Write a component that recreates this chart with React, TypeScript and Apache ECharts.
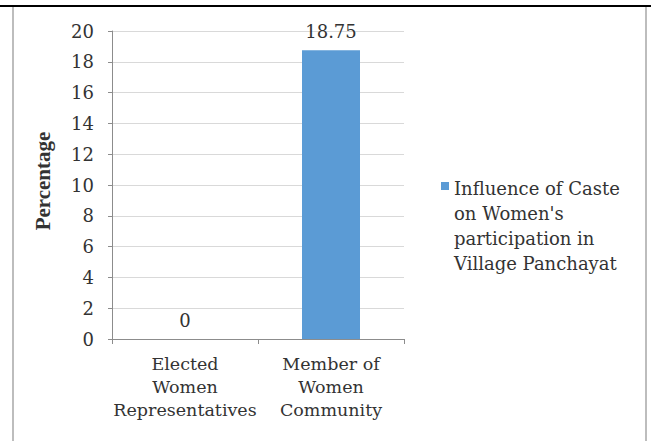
import React, { useEffect, useRef } from "react";
import * as echarts from "echarts";

const categories = ["Elected\nWomen\nRepresentatives", "Member of\nWomen\nCommunity"];
const seriesName = "Influence of Caste on Women's participation in Village Panchayat";
const legendLines = ["Influence of Caste", "on Women's", "participation in", "Village Panchayat"];
const values = [0, 18.75];
const yTicks = { min: 0, max: 20, interval: 2 };

const FONT = "DejaVu Serif";
const TEXT = "#333333";

// Legend marker: an 8x8 square near the top of a tall box, so it lines up
// with the first line of the four-line legend text.
const LEGEND_ICON = "path://M0,0L0,0M0,6L8,6L8,14L0,14ZM8,100L8,100";

export default function App() {
  const ref = useRef<HTMLDivElement>(null);

  useEffect(() => {
    if (!ref.current) return;
    const chart = echarts.init(ref.current, undefined, { renderer: "svg" });
    chart.setOption({
      animation: false,
      backgroundColor: "#ffffff",
      textStyle: { fontFamily: FONT, color: TEXT },
      grid: { left: 112, right: 249, top: 31, bottom: 102, containLabel: false },
      xAxis: {
        type: "category",
        data: categories,
        axisLine: { show: true, lineStyle: { color: "#8c8c8c", width: 1 } },
        axisTick: { show: true, length: 5, lineStyle: { color: "#8c8c8c" } },
        axisLabel: {
          fontFamily: FONT,
          fontSize: 17.5,
          lineHeight: 23,
          color: TEXT,
          margin: 13,
          interval: 0,
        },
      },
      yAxis: {
        type: "value",
        min: yTicks.min,
        max: yTicks.max,
        interval: yTicks.interval,
        name: "Percentage",
        nameLocation: "middle",
        nameGap: 59,
        nameRotate: 90,
        nameTextStyle: {
          fontFamily: "Liberation Serif",
          fontSize: 21,
          fontWeight: "bold",
          color: TEXT,
          padding: [0, 0, 0, 8],
        },
        axisLine: { show: true, lineStyle: { color: "#8c8c8c", width: 1 } },
        axisTick: { show: true, length: 4, lineStyle: { color: "#8c8c8c" } },
        axisLabel: { fontFamily: FONT, fontSize: 18, color: TEXT, margin: 18 },
        splitLine: { show: true, lineStyle: { color: "#d9d9d9", width: 1 } },
      },
      legend: {
        show: true,
        orient: "vertical",
        left: 441,
        top: 176,
        padding: 0,
        itemWidth: 8,
        itemHeight: 100,
        icon: LEGEND_ICON,
        formatter: () => legendLines.join("\n"),
        textStyle: {
          fontFamily: FONT,
          fontSize: 18,
          lineHeight: 25,
          color: TEXT,
        },
      },
      series: [
        {
          name: seriesName,
          type: "bar",
          data: values,
          barWidth: 58,
          itemStyle: { color: "#5b9bd5" },
          label: {
            show: true,
            position: "top",
            distance: 10,
            fontFamily: FONT,
            fontSize: 18,
            color: TEXT,
          },
        },
      ],
      graphic: [
        {
          type: "line",
          shape: { x1: 0, y1: 6, x2: 651, y2: 6 },
          style: { stroke: "#000000", lineWidth: 2 },
          silent: true,
        },
        {
          type: "line",
          shape: { x1: 13, y1: 7, x2: 13, y2: 441 },
          style: { stroke: "#bdbdbd", lineWidth: 2 },
          silent: true,
        },
        {
          type: "line",
          shape: { x1: 646, y1: 7, x2: 646, y2: 441 },
          style: { stroke: "#bdbdbd", lineWidth: 2 },
          silent: true,
        },
      ],
    });
    return () => chart.dispose();
  }, []);

  return (
    <div
      ref={ref}
      style={{ position: "fixed", left: 0, top: 0, width: 653, height: 441 }}
    />
  );
}
